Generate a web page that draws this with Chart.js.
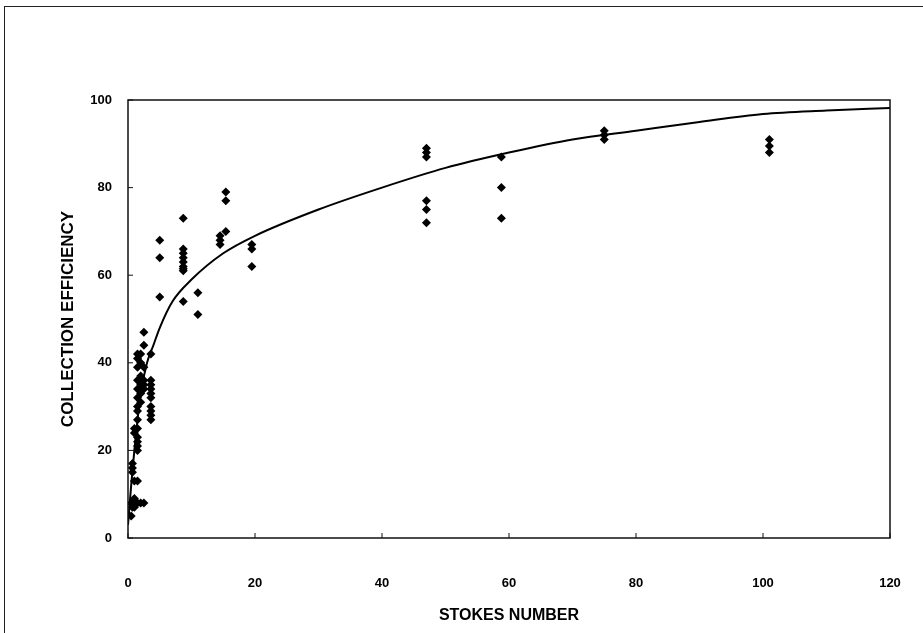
<!DOCTYPE html>
<html>
<head>
<meta charset="utf-8">
<script src="https://cdn.jsdelivr.net/npm/chart.js@4"></script>
<style>
  html, body { margin: 0; padding: 0; background: #fff; overflow: hidden; }
  #wrap { position: relative; width: 923px; height: 633px; }
  #c { display: block; }
  #frame { position: absolute; left: 4px; top: 6px; right: 0; bottom: 0;
           border-left: 1.5px solid #222; border-top: 1.5px solid #222; pointer-events: none; }
</style>
</head>
<body>
<div id="wrap">
  <canvas id="c"></canvas>
  <div id="frame"></div>
</div>
<script>
// measured points (Stokes number, collection efficiency %)
const sampleX = [
  0.5, 0.5,
  0.7, 0.7, 0.7, 0.7, 0.7,
  1.0, 1.0, 1.0, 1.0, 1.0, 1.0,
  1.5, 1.5, 1.5, 1.5, 1.5, 1.5, 1.5, 1.5, 1.5, 1.5, 1.5, 1.5, 1.5, 1.5, 1.5, 1.5,
  2.0, 2.0, 2.0, 2.0, 2.0, 2.0, 2.0, 2.0,
  2.5, 2.5, 2.5, 2.5, 2.5, 2.5, 2.5,
  3.6, 3.6, 3.6, 3.6, 3.6, 3.6, 3.6, 3.6, 3.6, 3.6,
  5, 5, 5,
  8.7, 8.7, 8.7, 8.7, 8.7, 8.7, 8.7, 8.7, 8.7,
  11, 11,
  14.5, 14.5, 14.5,
  15.4, 15.4, 15.4,
  19.5, 19.5, 19.5,
  47, 47, 47, 47, 47, 47,
  58.8, 58.8, 58.8,
  75, 75, 75,
  101, 101, 101
];
const sampleY = [
  5, 8,
  17, 16, 15, 8, 7,
  25, 24, 13, 9, 8, 7,
  42, 41, 39, 36, 34, 32, 30, 29, 27, 25, 23, 22, 21, 20, 13, 8,
  42, 40, 37, 35, 34, 33, 31, 8,
  47, 44, 39, 36, 35, 34, 8,
  42, 36, 35, 34, 33, 32, 30, 29, 28, 27,
  68, 64, 55,
  73, 66, 65, 64, 63, 62, 61.5, 61, 54,
  56, 51,
  67, 68, 69,
  70, 77, 79,
  67, 66, 62,
  89, 88, 87, 77, 75, 72,
  87, 80, 73,
  93, 92, 91,
  91, 89.5, 88
];

// fitted curve
const fitX = [0, 0.5, 1, 1.5, 2, 3, 4, 5, 7, 10, 15, 20, 30, 40, 50, 60, 70, 80, 90, 100, 110, 120];
const fitY = [3, 12, 20, 27, 33, 40, 44, 48, 54, 59, 65, 69, 75, 80, 84.5, 88, 91, 93, 95, 96.8, 97.6, 98.2];

const xTicks = [0, 20, 40, 60, 80, 100, 120];
const yTicks = [0, 20, 40, 60, 80, 100];

const toPts = (xs, ys) => xs.map((x, i) => ({ x: x, y: ys[i] }));

// box around plot + inward tick marks
const plotFrame = {
  id: "plotFrame",
  afterDraw(chart) {
    const { ctx, chartArea: a, scales } = chart;
    ctx.save();
    ctx.strokeStyle = "#111";
    ctx.lineWidth = 1.5;
    ctx.strokeRect(a.left, a.top, a.right - a.left, a.bottom - a.top);
    ctx.lineWidth = 1;
    ctx.beginPath();
    xTicks.forEach(v => {
      const px = scales.x.getPixelForValue(v);
      ctx.moveTo(px, a.bottom);
      ctx.lineTo(px, a.bottom - 5);
    });
    yTicks.forEach(v => {
      const py = scales.y.getPixelForValue(v);
      ctx.moveTo(a.left, py);
      ctx.lineTo(a.left + 5, py);
    });
    ctx.stroke();
    ctx.restore();
  }
};

const tickFont = { family: "Liberation Sans", size: 13, weight: "bold" };

new Chart(document.getElementById("c"), {
  type: "scatter",
  data: {
    datasets: [
      {
        type: "line",
        data: toPts(fitX, fitY),
        borderColor: "#000",
        borderWidth: 2,
        pointRadius: 0,
        cubicInterpolationMode: "monotone",
        fill: false,
      },
      {
        data: toPts(sampleX, sampleY),
        pointStyle: "rectRot",
        pointRadius: 4.5,
        backgroundColor: "#000",
        borderColor: "#000",
        borderWidth: 0,
      },
    ],
  },
  options: {
    responsive: true,
    maintainAspectRatio: false,
    animation: false,
    layout: { padding: { top: 100, right: 33, left: 0, bottom: 0 } },
    plugins: { legend: { display: false }, tooltip: { enabled: false } },
    scales: {
      x: {
        type: "linear",
        min: 0,
        max: 120,
        afterBuildTicks: s => { s.ticks = xTicks.map(v => ({ value: v })); },
        afterFit: s => { s.height = 95; s.paddingLeft = 0; s.paddingRight = 0; },
        grid: { display: false, drawTicks: false },
        border: { display: false },
        ticks: { color: "#000", font: tickFont, padding: 38, maxRotation: 0 },
        title: { display: true, text: "STOKES NUMBER", color: "#000",
                 font: { family: "Liberation Sans", size: 16, weight: "bold" }, padding: { top: 0, bottom: 8 } },
      },
      y: {
        type: "linear",
        min: 0,
        max: 100,
        afterBuildTicks: s => { s.ticks = yTicks.map(v => ({ value: v })); },
        afterFit: s => { s.width = 128; },
        grid: { display: false, drawTicks: false },
        border: { display: false },
        ticks: { color: "#000", font: tickFont, padding: 16 },
        title: { display: true, text: "COLLECTION EFFICIENCY", color: "#000",
                 font: { family: "Liberation Sans", size: 17, weight: "bold" }, padding: { top: 58, bottom: 0 } },
      },
    },
  },
  plugins: [plotFrame],
});
</script>
</body>
</html>
